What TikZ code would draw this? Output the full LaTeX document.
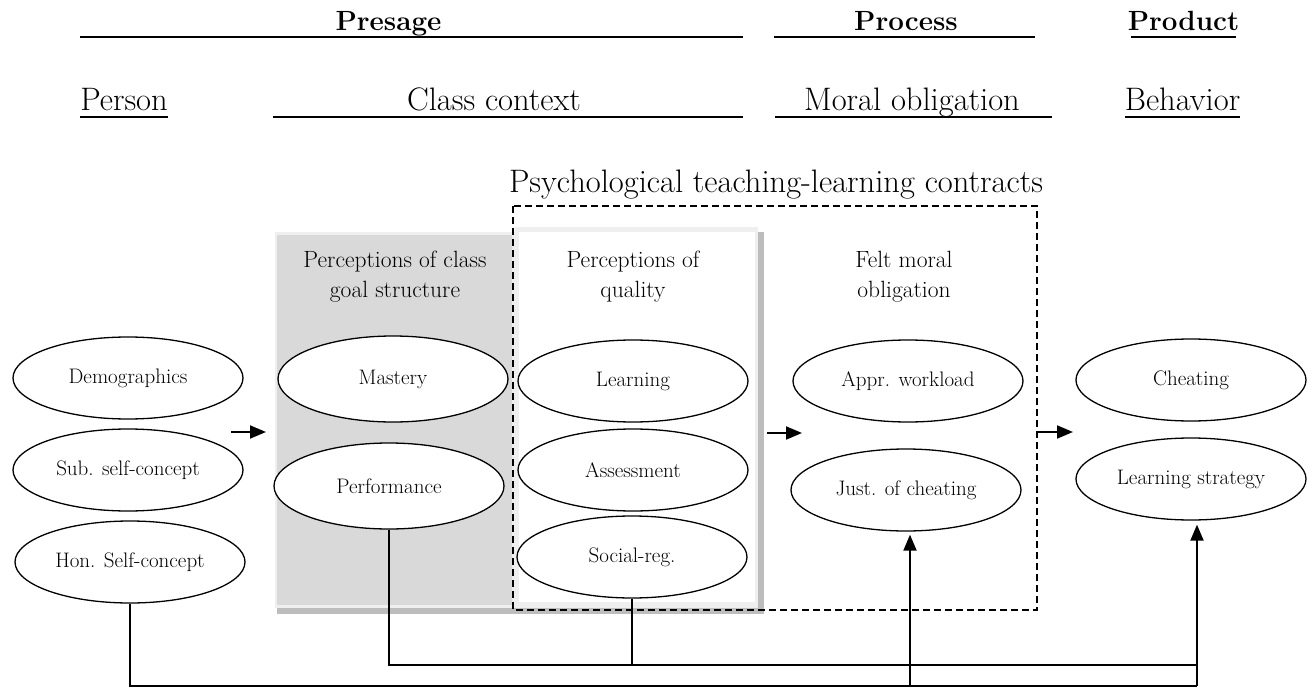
\documentclass[tikz,border=0pt]{standalone}
\usepackage{fontspec}
\usetikzlibrary{shapes.geometric,arrows.meta}
\definecolor{panelgrey}{HTML}{D9D9D9}
\definecolor{framegrey}{HTML}{EFEFEF}
\definecolor{shadowgrey}{HTML}{BDBDBD}

\begin{document}
\begin{tikzpicture}[x=1pt,y=-1pt,
  oval/.style={ellipse,draw,line width=1.3pt,fill=white,minimum width=230pt,
    minimum height=82pt,inner sep=0pt,font=\fontsize{21}{25}\selectfont},
  head/.style={anchor=base,inner sep=0pt,font=\fontsize{32.5}{38}\selectfont},
  bhead/.style={anchor=base,inner sep=0pt,font=\fontsize{27.8}{33}\selectfont\bfseries},
  rule/.style={line width=2.3pt},
  paneltitle/.style={anchor=base,inner sep=0pt,align=center,
    font=\fontsize{23.5}{30}\selectfont},
  link/.style={line width=1.4pt},
  flow/.style={line width=1.9pt,-{Triangle[length=16pt,width=13pt]}},
  contract/.style={line width=1.3pt,dash pattern=on 7pt off 4pt},
]
\useasboundingbox (0,0) rectangle (1315,690);

% stage headings
\node[bhead] (presage) at (388.5,31) {Presage};
\node[bhead] (process) at (906,31) {Process};
\node[bhead] (product) at (1183.5,31) {Product};
\draw[rule] (80,37) -- (743,37);
\draw[rule] (774,37) -- (1035,37);
\draw[rule] (1131,37) -- (1236,37);

\node[head] (person) at (124,111) {Person};
\node[head] (classctx) at (494,111) {Class context};
\node[head] (moral) at (912,111) {Moral obligation};
\node[head] (behavior) at (1182.5,111) {Behavior};
\draw[rule] (80,117) -- (168,117);
\draw[rule] (273,117) -- (743,117);
\draw[rule] (775,117) -- (1052,117);
\draw[rule] (1125,117) -- (1240,117);

% class-context panels with their drop shadow
\fill[shadowgrey] (758,232) rectangle (764,614);
\fill[shadowgrey] (277,607) rectangle (764,614);
\fill[framegrey] (275,232) rectangle (517,608);
\fill[panelgrey] (277,235) rectangle (512,605);
\fill[framegrey] (515,227) rectangle (758,608);
\fill[white] (519,232) rectangle (755,602);

% psychological contract frame
\node[head] (contracts) at (776,193) {Psychological teaching-learning contracts};
\draw[contract] (513,206) rectangle (1037,610);

% column titles (base anchor sits on the second line)
\node[paneltitle] (goalT) at (395,297) {Perceptions of class\\goal structure};
\node[paneltitle] (qualT) at (633,297) {Perceptions of\\quality};
\node[paneltitle] (feltT) at (904,297) {Felt moral\\obligation};

% person
\node[oval] (dem) at (128,378) {Demographics};
\node[oval] (sub) at (128,470) {Sub. self-concept};
\node[oval] (hon) at (130,562) {Hon. Self-concept};

% goal structure
\node[oval,minimum height=86pt] (mas) at (393,379) {Mastery};
\node[oval,minimum height=86pt] (perf) at (389,486) {Performance};

% perceived quality
\node[oval] (lrn) at (633,381) {Learning};
\node[oval] (ass) at (633,470) {Assessment};
\node[oval] (soc) at (632,557) {Social-reg.};

% felt moral obligation
\node[oval] (appr) at (908,381) {Appr. workload};
\node[oval] (just) at (906,490) {Just. of cheating};

% behaviour
\node[oval] (cheat) at (1191,380) {Cheating};
\node[oval] (lstr) at (1191,479) {Learning strategy};

% stage-to-stage arrows
\coordinate (f1s) at (231,432); \coordinate (f1e) at (266,432);
\coordinate (f2s) at (767,433); \coordinate (f2e) at (802,433);
\coordinate (f3s) at (1037,432); \coordinate (f3e) at (1073,432);
\draw[flow] (f1s) -- (f1e);
\draw[flow] (f2s) -- (f2e);
\draw[flow] (f3s) -- (f3e);

% feedback lines along the bottom
\coordinate (upR) at (1197,665);
\coordinate (lowR) at (1197,686);
\coordinate (lowJ) at (910,686);
\draw[link] (perf.south) |- (upR);
\draw[link] (soc.south) -- (soc.south |- upR);
\draw[link] (hon.south) |- (lowR);
\draw[flow,shorten >=3pt] (lowJ) -- (lowJ |- just.south);
\draw[flow,shorten >=4pt] (lowR) -- (lowR |- lstr.south);
\end{tikzpicture}
\end{document}
